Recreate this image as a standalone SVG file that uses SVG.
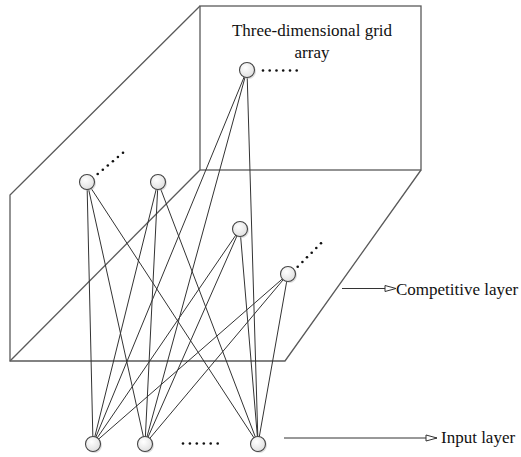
<svg xmlns="http://www.w3.org/2000/svg" width="521" height="457" viewBox="0 0 521 457">
  <defs>
    <radialGradient id="nodeGrad" cx="0.4" cy="0.35" r="0.75">
      <stop offset="0" stop-color="#ffffff"/>
      <stop offset="1" stop-color="#dcdcdc"/>
    </radialGradient>
    <marker id="openTri" markerUnits="userSpaceOnUse" markerWidth="14" markerHeight="9" refX="12" refY="4" orient="auto">
      <path d="M1,1 L12,4 L1,7 z" fill="#ffffff" stroke="#333333" stroke-width="1"/>
    </marker>
  </defs>
  <style>
    .panel { fill: none; stroke: #5a5a5a; stroke-width: 1.3; }
    .link { stroke: #333333; stroke-width: 1; fill: none; }
    .node { fill: url(#nodeGrad); stroke: #444444; stroke-width: 1.1; }
    .shadow { fill: #bdbdbd; opacity: 0.5; }
    .dot { fill: #111111; }
    .lbl { font-family: "Liberation Serif", "Times New Roman", serif; font-size: 17px; fill: #111111; }
    .arrow { stroke: #333333; stroke-width: 1; fill: none; marker-end: url(#openTri); }
  </style>
  <rect width="521" height="457" fill="#ffffff"/>

  <g id="grid-panels">
    <rect class="panel" x="200" y="6" width="221" height="164"/>
    <polyline class="panel" points="200,6 10,195 10,361 285,361 421,170"/>
    <line class="panel" x1="200" y1="170" x2="10" y2="361"/>
  </g>

  <g id="connectors">
    <line class="link" x1="247" y1="70" x2="93" y2="444"/>
    <line class="link" x1="247" y1="70" x2="145" y2="444"/>
    <line class="link" x1="247" y1="70" x2="258" y2="444"/>
    <line class="link" x1="87" y1="182" x2="93" y2="444"/>
    <line class="link" x1="87" y1="182" x2="145" y2="444"/>
    <line class="link" x1="87" y1="182" x2="258" y2="444"/>
    <line class="link" x1="158" y1="182" x2="93" y2="444"/>
    <line class="link" x1="158" y1="182" x2="145" y2="444"/>
    <line class="link" x1="158" y1="182" x2="258" y2="444"/>
    <line class="link" x1="240" y1="229" x2="93" y2="444"/>
    <line class="link" x1="240" y1="229" x2="145" y2="444"/>
    <line class="link" x1="240" y1="229" x2="258" y2="444"/>
    <line class="link" x1="288" y1="274" x2="93" y2="444"/>
    <line class="link" x1="288" y1="274" x2="145" y2="444"/>
    <line class="link" x1="288" y1="274" x2="258" y2="444"/>
    <line class="arrow" x1="342" y1="288.5" x2="396" y2="288.5"/>
    <line class="arrow" x1="284" y1="438" x2="437" y2="438"/>
  </g>

  <g id="node-c0">
    <circle class="shadow" cx="248.5" cy="71.5" r="7.5"/>
    <circle class="node" cx="247" cy="70" r="7.5"/>
  </g>
  <g id="node-c1">
    <circle class="shadow" cx="88.5" cy="183.5" r="7.5"/>
    <circle class="node" cx="87" cy="182" r="7.5"/>
  </g>
  <g id="node-c2">
    <circle class="shadow" cx="159.5" cy="183.5" r="7.5"/>
    <circle class="node" cx="158" cy="182" r="7.5"/>
  </g>
  <g id="node-c3">
    <circle class="shadow" cx="241.5" cy="230.5" r="7.5"/>
    <circle class="node" cx="240" cy="229" r="7.5"/>
  </g>
  <g id="node-c4">
    <circle class="shadow" cx="289.5" cy="275.5" r="7.5"/>
    <circle class="node" cx="288" cy="274" r="7.5"/>
  </g>
  <g id="node-i1">
    <circle class="shadow" cx="94.5" cy="445.5" r="7.5"/>
    <circle class="node" cx="93" cy="444" r="7.5"/>
  </g>
  <g id="node-i2">
    <circle class="shadow" cx="146.5" cy="445.5" r="7.5"/>
    <circle class="node" cx="145" cy="444" r="7.5"/>
  </g>
  <g id="node-i3">
    <circle class="shadow" cx="259.5" cy="445.5" r="7.5"/>
    <circle class="node" cx="258" cy="444" r="7.5"/>
  </g>

  <g id="ellipses">
    <circle class="dot" cx="97.7" cy="174" r="1.3"/>
    <circle class="dot" cx="102.8" cy="169.7" r="1.3"/>
    <circle class="dot" cx="107.8" cy="165.5" r="1.3"/>
    <circle class="dot" cx="112.9" cy="161.2" r="1.3"/>
    <circle class="dot" cx="117.9" cy="157" r="1.3"/>
    <circle class="dot" cx="123" cy="152.7" r="1.3"/>

    <circle class="dot" cx="263" cy="70.5" r="1.3"/>
    <circle class="dot" cx="269.7" cy="70.5" r="1.3"/>
    <circle class="dot" cx="276.5" cy="70.5" r="1.3"/>
    <circle class="dot" cx="283.2" cy="70.5" r="1.3"/>
    <circle class="dot" cx="290" cy="70.5" r="1.3"/>
    <circle class="dot" cx="296.7" cy="70.5" r="1.3"/>

    <circle class="dot" cx="297.7" cy="266.7" r="1.3"/>
    <circle class="dot" cx="302.4" cy="262" r="1.3"/>
    <circle class="dot" cx="307" cy="257.3" r="1.3"/>
    <circle class="dot" cx="311.7" cy="252.7" r="1.3"/>
    <circle class="dot" cx="316.3" cy="248" r="1.3"/>
    <circle class="dot" cx="321" cy="243.3" r="1.3"/>

    <circle class="dot" cx="183" cy="443.5" r="1.3"/>
    <circle class="dot" cx="189.9" cy="443.5" r="1.3"/>
    <circle class="dot" cx="196.8" cy="443.5" r="1.3"/>
    <circle class="dot" cx="203.8" cy="443.5" r="1.3"/>
    <circle class="dot" cx="210.7" cy="443.5" r="1.3"/>
    <circle class="dot" cx="217.7" cy="443.5" r="1.3"/>
  </g>

  <g id="labels">
    <text class="lbl" x="312" y="36" text-anchor="middle">Three-dimensional grid</text>
    <text class="lbl" x="312" y="57.5" text-anchor="middle">array</text>
    <text class="lbl" x="396" y="295">Competitive layer</text>
    <text class="lbl" x="441" y="443">Input layer</text>
  </g>
</svg>
